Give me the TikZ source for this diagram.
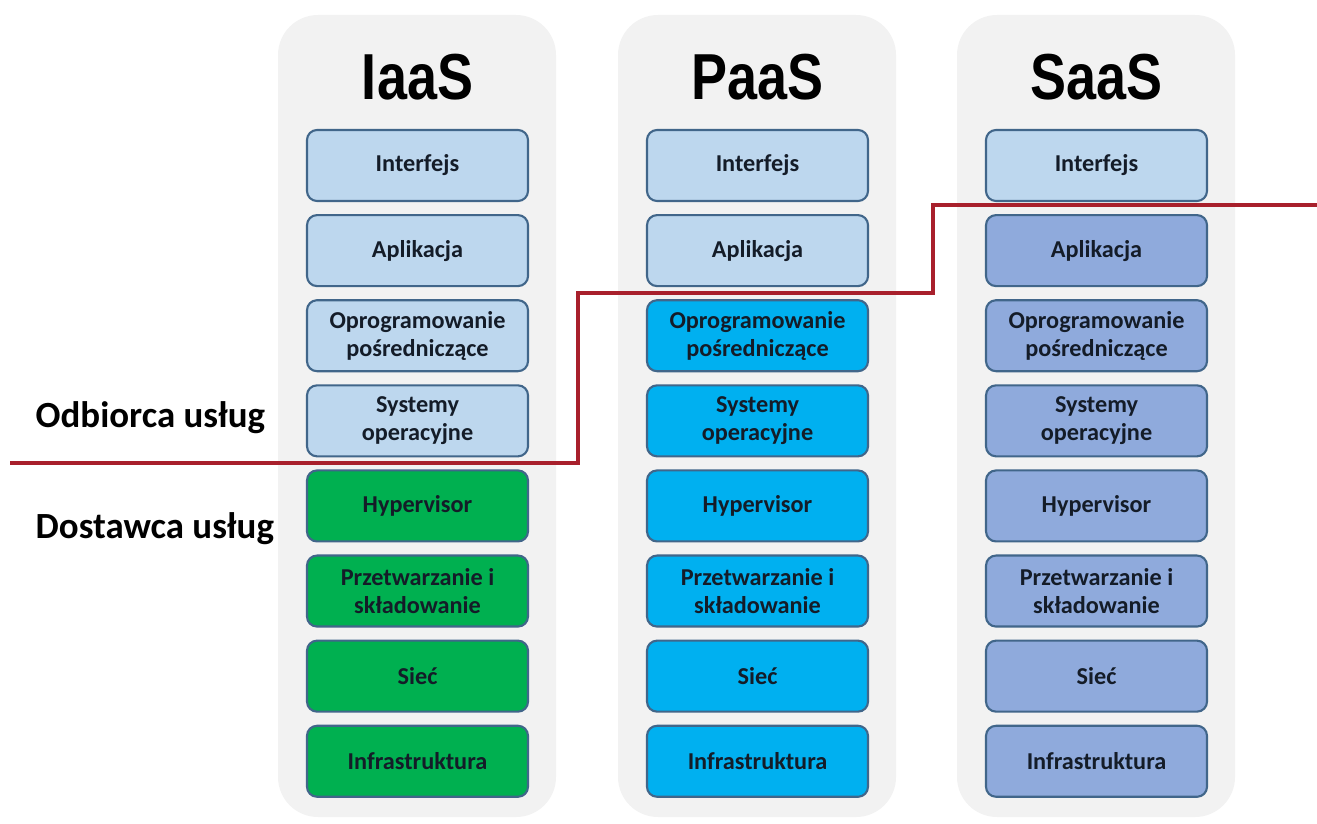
\documentclass[tikz,border=0pt]{standalone}
\usepackage{fontspec}
\setmainfont{Carlito}
\newfontfamily\titlefont[FakeStretch=0.83]{Liberation Sans}
\usetikzlibrary{positioning}

\definecolor{panelgray}{HTML}{F2F2F2}
\definecolor{layerlight}{HTML}{BDD7EE}
\definecolor{layergreen}{HTML}{00B050}
\definecolor{layercyan}{HTML}{00B0F0}
\definecolor{layerviolet}{HTML}{8FAADC}
\definecolor{layeredge}{HTML}{41668A}
\definecolor{layertext}{HTML}{141C28}
\definecolor{cutred}{HTML}{A8202C}

\begin{document}
\begin{tikzpicture}[
    node distance=0.12cm,
    panel/.style={fill=panelgray, draw=none, rounded corners=0.4cm},
    title/.style={font=\titlefont\bfseries\fontsize{18.5}{20}\selectfont, inner sep=0pt},
    layer/.style={rectangle, rounded corners=0.1cm, draw=layeredge, line width=0.6pt, minimum width=2.21cm, minimum height=0.71cm, align=center, text=layertext, font=\bfseries\fontsize{6.9}{8}\selectfont, inner sep=1pt},
    side/.style={anchor=west, inner sep=0pt, font=\bfseries\fontsize{10.5}{12}\selectfont},
    cut/.style={draw=cutred, line width=1pt}
]
\useasboundingbox (0,0) rectangle (13.17,-8.23);

% grey columns
\fill[panel] (2.78,-0.15) rectangle (5.56,-8.17);
\fill[panel] (6.18,-0.15) rectangle (8.96,-8.17);
\fill[panel] (9.57,-0.15) rectangle (12.35,-8.17);

% IaaS
\node[title] (iaas) at (4.175,-0.77) {IaaS};
\node[layer, fill=layerlight] (i1) at (4.175,-1.655) {Interfejs};
\node[layer, fill=layerlight, below=of i1] (i2) {Aplikacja};
\node[layer, fill=layerlight, below=of i2] (i3) {Oprogramowanie\\pośredniczące};
\node[layer, fill=layerlight, below=of i3] (i4) {Systemy\\operacyjne};
\node[layer, fill=layergreen, below=of i4] (i5) {Hypervisor};
\node[layer, fill=layergreen, below=of i5] (i6) {Przetwarzanie i\\składowanie};
\node[layer, fill=layergreen, below=of i6] (i7) {Sieć};
\node[layer, fill=layergreen, below=of i7] (i8) {Infrastruktura};

% PaaS
\node[title] (paas) at (7.575,-0.77) {PaaS};
\node[layer, fill=layerlight] (p1) at (7.575,-1.655) {Interfejs};
\node[layer, fill=layerlight, below=of p1] (p2) {Aplikacja};
\node[layer, fill=layercyan, below=of p2] (p3) {Oprogramowanie\\pośredniczące};
\node[layer, fill=layercyan, below=of p3] (p4) {Systemy\\operacyjne};
\node[layer, fill=layercyan, below=of p4] (p5) {Hypervisor};
\node[layer, fill=layercyan, below=of p5] (p6) {Przetwarzanie i\\składowanie};
\node[layer, fill=layercyan, below=of p6] (p7) {Sieć};
\node[layer, fill=layercyan, below=of p7] (p8) {Infrastruktura};

% SaaS
\node[title] (saas) at (10.965,-0.77) {SaaS};
\node[layer, fill=layerlight] (s1) at (10.965,-1.655) {Interfejs};
\node[layer, fill=layerviolet, below=of s1] (s2) {Aplikacja};
\node[layer, fill=layerviolet, below=of s2] (s3) {Oprogramowanie\\pośredniczące};
\node[layer, fill=layerviolet, below=of s3] (s4) {Systemy\\operacyjne};
\node[layer, fill=layerviolet, below=of s4] (s5) {Hypervisor};
\node[layer, fill=layerviolet, below=of s5] (s6) {Przetwarzanie i\\składowanie};
\node[layer, fill=layerviolet, below=of s6] (s7) {Sieć};
\node[layer, fill=layerviolet, below=of s7] (s8) {Infrastruktura};

\node[side] (client) at (0.35,-4.18) {Odbiorca usług};
\node[side] (provider) at (0.35,-5.29) {Dostawca usług};

% split line
\coordinate (cutstart) at (0.10,-4.63);
\coordinate (cutstep) at (5.78,-2.93);
\coordinate (cutstep2) at (9.33,-2.05);
\coordinate (cutend) at (13.17,-2.05);
\draw[cut] (cutstart) -| (cutstep) -| (cutstep2) -- (cutend);
\end{tikzpicture}
\end{document}
